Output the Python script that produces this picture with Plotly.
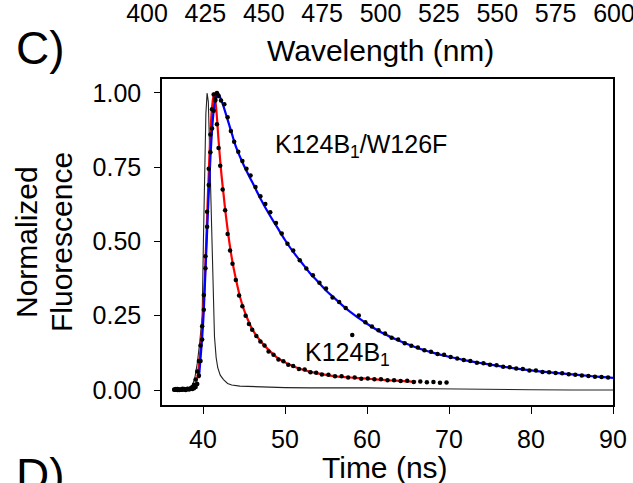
import plotly.graph_objects as go

# ---------------- data ----------------
time_ticks = [40, 50, 60, 70, 80, 90]
norm_ticks = [0.0, 0.25, 0.5, 0.75, 1.0]
wavelength_ticks = [400, 425, 450, 475, 500, 525, 550, 575, 600]

# instrument response (thin black line)
irf_t = [36.5, 37.0, 37.5, 38.0, 38.4, 38.7, 39.0, 39.3, 39.6, 39.9, 40.05, 40.2,
         40.35, 40.5, 40.65, 40.8, 41.0, 41.2, 41.4, 41.6, 41.8, 42.1, 42.5, 43.0,
         43.5, 44.5, 46.0, 48.0, 50.0, 53.0, 56.0, 60.0, 65.0, 70.0, 75.0, 80.0,
         85.0, 90.0]
irf_v = [0.0, 0.0, 0.001, 0.002, 0.004, 0.015, 0.04, 0.09, 0.16, 0.25, 0.50, 0.74,
         0.93, 1.0, 0.97, 0.82, 0.58, 0.33, 0.18, 0.11, 0.075, 0.05, 0.035, 0.022,
         0.017, 0.013, 0.011, 0.009, 0.008, 0.007, 0.008, 0.007, 0.005, 0.003, 0.002,
         0.001, 0.0, 0.0]

# K124B1 measured points
k_t = [36.5, 36.7, 36.9, 37.1, 37.3, 37.5, 37.7, 37.9, 38.1, 38.3, 38.5, 38.7, 38.9, 39.1,
       39.3, 39.5, 39.7, 39.9, 40.1, 40.3, 40.5, 40.7, 40.9, 41.1, 41.3, 41.5, 41.7, 41.9, 42.1,
       42.4, 42.7, 43.0, 43.3, 43.6, 44.0, 44.4, 44.8, 45.2, 45.6, 46.0, 46.5, 47.0, 47.5, 48.0,
       48.6, 49.2, 49.8, 50.4, 51.0, 51.7, 52.4, 53.1, 53.8, 54.5, 55.3, 56.1, 56.9, 57.7, 58.5,
       59.3, 60.1, 60.9, 61.7, 62.5, 63.3, 64.1, 64.9, 65.7, 66.5, 67.3, 68.1, 68.9, 69.7]
k_v = [0.002, 0.001, 0.003, 0.000, 0.002, 0.001, 0.003, 0.002, 0.004, 0.003, 0.006, 0.010, 0.018, 0.035,
       0.062, 0.098, 0.150, 0.215, 0.320, 0.450, 0.600, 0.745, 0.860, 0.945, 0.995, 0.975, 0.895, 0.815, 0.755,
       0.675, 0.605, 0.525, 0.470, 0.425, 0.370, 0.318, 0.282, 0.250, 0.222, 0.203, 0.182, 0.163, 0.150, 0.130,
       0.119, 0.103, 0.097, 0.085, 0.081, 0.071, 0.069, 0.060, 0.058, 0.052, 0.051, 0.046, 0.046, 0.042, 0.042,
       0.038, 0.039, 0.036, 0.036, 0.033, 0.033, 0.030, 0.031, 0.027, 0.029, 0.026, 0.027, 0.024, 0.025]

# K124B1 fit (red)
kfit_t = [39.0, 39.3, 39.6, 39.9, 40.2, 40.5, 40.8, 41.1, 41.35, 41.6, 41.9, 42.2, 42.5, 42.8,
          43.2, 43.6, 44.0, 44.5, 45.0, 45.5, 46.0, 47.0, 48.0, 49.0, 50.0, 51.0, 52.0, 53.0,
          54.0, 55.0, 56.0, 57.0, 58.0, 59.0, 60.0, 61.0, 62.0, 63.0, 64.0, 65.0, 66.0]
kfit_v = [0.010, 0.040, 0.110, 0.210, 0.360, 0.580, 0.800, 0.950, 1.000, 0.950, 0.840, 0.740, 0.660, 0.585,
          0.500, 0.430, 0.375, 0.315, 0.270, 0.235, 0.205, 0.165, 0.135, 0.110, 0.093, 0.080, 0.070, 0.062,
          0.056, 0.051, 0.047, 0.044, 0.042, 0.040, 0.038, 0.036, 0.034, 0.032, 0.031, 0.029, 0.028]

# K124B1/W126F measured points
w_t = [36.5, 36.7, 36.9, 37.1, 37.3, 37.5, 37.7, 37.9, 38.1, 38.3, 38.5, 38.7, 38.9, 39.1,
       39.3, 39.5, 39.7, 39.9, 40.1, 40.3, 40.5, 40.7, 40.9, 41.1, 41.3, 41.5, 41.7, 41.9,
       42.2, 42.6, 43.0, 43.4, 43.8, 44.3, 44.8, 45.3, 45.8, 46.4, 47.0, 47.6, 48.2, 48.9, 49.6, 50.3, 51.0,
       51.8, 52.6, 53.4, 54.2, 55.0, 55.8, 56.6, 57.4, 58.2, 59.0, 59.8, 60.6,
       61.4, 62.2, 63.0, 63.8, 64.6, 65.4, 66.2, 67.0, 67.8, 68.6, 69.4, 70.2,
       71.0, 71.8, 72.6, 73.4, 74.2, 75.0, 75.8, 76.6, 77.4, 78.2, 79.0, 79.8,
       80.6, 81.4, 82.2, 83.0, 83.8, 84.6, 85.4, 86.2, 87.0, 87.8, 88.6, 89.4]
w_v = [0.001, 0.003, 0.000, 0.002, 0.001, 0.004, 0.002, 0.000, 0.003, 0.002, 0.004, 0.003, 0.006, 0.010,
       0.020, 0.048, 0.098, 0.170, 0.270, 0.410, 0.550, 0.690, 0.800, 0.880, 0.940, 0.980, 1.000, 0.990,
       0.975, 0.962, 0.918, 0.872, 0.836, 0.802, 0.771, 0.745, 0.722, 0.683, 0.652, 0.626, 0.598, 0.562, 0.527, 0.492, 0.470,
       0.437, 0.409, 0.386, 0.361, 0.342, 0.311, 0.296, 0.276, 0.185, 0.251, 0.228, 0.214,
       0.201, 0.190, 0.176, 0.170, 0.157, 0.149, 0.143, 0.134, 0.129, 0.121, 0.119, 0.111,
       0.106, 0.101, 0.098, 0.092, 0.090, 0.085, 0.083, 0.078, 0.077, 0.072, 0.071, 0.066,
       0.066, 0.061, 0.060, 0.057, 0.056, 0.053, 0.051, 0.049, 0.047, 0.045, 0.044, 0.042]

# K124B1/W126F fit (blue)
wfit_t = [39.5, 40.0, 40.3, 40.6, 40.9, 41.2, 41.5, 41.8, 42.1, 42.5, 43.0, 43.5, 44.0,
          45.0, 46.0, 47.0, 48.0, 49.0, 50.0, 51.0, 52.0, 53.0, 54.0, 55.0, 56.0, 57.0, 58.0,
          59.0, 60.0, 62.0, 64.0, 66.0, 68.0, 70.0, 72.0, 74.0, 76.0, 78.0, 80.0, 82.0, 84.0,
          86.0, 88.0, 90.0]
wfit_v = [0.040, 0.220, 0.400, 0.600, 0.780, 0.910, 0.980, 1.000, 0.985, 0.955, 0.910, 0.865, 0.820,
          0.755, 0.700, 0.645, 0.595, 0.550, 0.505, 0.465, 0.430, 0.395, 0.365, 0.335, 0.310, 0.285, 0.262,
          0.242, 0.223, 0.190, 0.165, 0.143, 0.126, 0.112, 0.100, 0.090, 0.081, 0.073, 0.066, 0.060, 0.055,
          0.050, 0.045, 0.041]

# ---------------- figure ----------------
W, H = 633, 483
FONT = "Arial, Liberation Sans, sans-serif"

fig = go.Figure()
fig.add_trace(go.Scatter(x=irf_t, y=irf_v, mode="lines",
                         line=dict(color="#222222", width=1.1), showlegend=False))
fig.add_trace(go.Scatter(x=kfit_t, y=kfit_v, mode="lines", line_shape="spline",
                         line=dict(color="#ff0000", width=2.2), showlegend=False))
fig.add_trace(go.Scatter(x=wfit_t, y=wfit_v, mode="lines", line_shape="spline",
                         line=dict(color="#0000ff", width=2.2), showlegend=False))
fig.add_trace(go.Scatter(x=k_t, y=k_v, mode="markers",
                         marker=dict(color="black", size=4.5), showlegend=False))
fig.add_trace(go.Scatter(x=w_t, y=w_v, mode="markers",
                         marker=dict(color="black", size=4.5), showlegend=False))
# carrier for the wavelength axis of the panel above
fig.add_trace(go.Scatter(x=[], y=[], xaxis="x2", yaxis="y2", showlegend=False))

fig.update_layout(
    width=W, height=H,
    margin=dict(l=0, r=0, t=0, b=0, autoexpand=False),
    paper_bgcolor="white", plot_bgcolor="white",
    font=dict(family=FONT, color="black"),
    xaxis=dict(domain=[162 / W, 613 / W], range=[35, 90], tickvals=time_ticks,
               ticks="outside", ticklen=7, tickwidth=1, tickcolor="black",
               showline=True, linecolor="black", linewidth=1.5, mirror=True,
               showgrid=False, zeroline=False, tickfont=dict(size=25),
               ticklabelstandoff=4, automargin=False, ticklabeloverflow="allow"),
    yaxis=dict(domain=[1 - 405 / H, 1 - 79 / H], range=[-0.0505, 1.047],
               tickvals=norm_ticks, tickformat=".2f",
               ticks="outside", ticklen=6, tickwidth=1, tickcolor="black",
               showline=True, linecolor="black", linewidth=1.5, mirror=True,
               showgrid=False, zeroline=False, tickfont=dict(size=25),
               ticklabelstandoff=8, automargin=False),
    xaxis2=dict(domain=[147 / W, 614 / W], range=[400, 600], anchor="y2",
                tickvals=wavelength_ticks, ticks="", showline=False,
                showgrid=False, zeroline=False, tickfont=dict(size=25),
                ticklabelstandoff=-5, automargin=False, ticklabeloverflow="allow"),
    yaxis2=dict(domain=[1 - 1 / H, 1], anchor="x2", visible=False, automargin=False),
)

def pa(text, px, py, size, angle=0):
    fig.add_annotation(text=text, xref="paper", yref="paper", x=px / W, y=1 - py / H,
                       xanchor="center", yanchor="middle", showarrow=False,
                       textangle=angle, font=dict(size=size, family=FONT, color="black"))

pa("C)", 40, 48, 46)
pa("D)", 40, 475, 46)
pa("Wavelength (nm)", 380, 50, 30)
pa("Time (ns)", 385, 467, 30)
pa("Normalized", 26, 242, 30, -90)
pa("Fluorescence", 61, 242, 30, -90)

fig.add_annotation(text="K124B<sub>1</sub>/W126F", x=48.5, y=0.82, xref="x", yref="y",
                   xanchor="left", yanchor="middle", showarrow=False,
                   font=dict(size=25, family=FONT, color="black"))
fig.add_annotation(text="K124B<sub>1</sub>", x=52.2, y=0.12, xref="x", yref="y",
                   xanchor="left", yanchor="middle", showarrow=False,
                   font=dict(size=25, family=FONT, color="black"))

fig.write_html("out.html")
